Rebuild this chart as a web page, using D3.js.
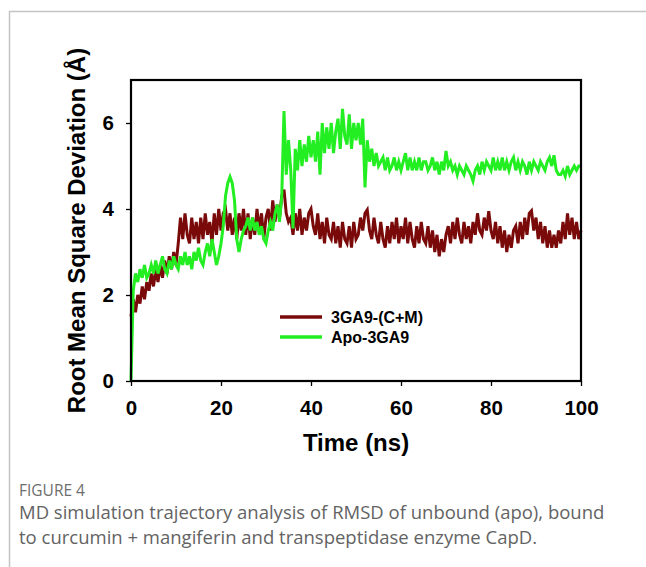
<!DOCTYPE html>
<html>
<head>
<meta charset="utf-8">
<script src="https://cdn.jsdelivr.net/npm/d3@7"></script>
<style>
  body { margin: 0; background: #fff; }
  svg { display: block; }
</style>
</head>
<body>
<div id="chart"></div>
<script>
// ---------- data (0.5 ns steps) ----------
const timeStep = 0.5;

// 3GA9-(C+M) : bound complex
const boundRmsd = [
  1.5,1.9,1.6,2.0,1.8,2.2,1.9,2.3,2.1,2.5,2.2,
  2.6,2.3,2.7,2.4,2.8,2.5,2.9,2.6,3.0,2.7,
  3.2,3.8,3.3,3.9,3.4,3.2,3.8,3.3,3.7,3.2,
  3.8,3.3,3.9,3.4,3.7,3.2,3.9,3.4,4.0,3.5,
  3.9,4.0,3.5,3.9,3.4,3.8,3.3,3.9,3.5,4.0,
  3.4,3.9,3.3,3.8,3.4,4.0,3.5,3.9,3.3,3.8,
  4.0,3.5,4.2,3.7,4.1,3.8,4.3,4.45,3.9,3.7,
  3.8,3.4,3.9,3.5,4.0,3.4,3.8,3.5,3.9,4.0,
  3.6,3.4,3.9,3.3,3.7,3.2,3.8,3.4,3.3,3.7,
  3.2,3.6,3.1,3.7,3.3,3.2,3.6,3.1,3.7,3.3,
  3.4,3.8,3.5,3.9,3.98,3.5,3.3,3.8,3.4,3.2,
  3.7,3.3,3.1,3.6,3.2,3.7,3.3,3.8,3.2,3.6,
  3.3,3.8,3.2,3.7,3.3,3.1,3.6,3.2,3.7,3.3,
  3.2,3.6,3.1,3.5,3.0,3.4,2.9,3.3,3.0,3.4,
  3.6,3.2,3.7,3.3,3.8,3.4,3.2,3.7,3.3,3.6,
  3.2,3.7,3.4,3.9,3.5,3.4,3.8,3.5,3.95,3.5,
  3.3,3.7,3.2,3.6,3.1,3.5,3.0,3.4,3.1,3.5,
  3.6,3.2,3.7,3.3,3.8,3.4,3.9,3.96,3.5,3.8,
  3.3,3.7,3.2,3.6,3.1,3.5,3.1,3.4,3.1,3.5,
  3.2,3.7,3.3,3.9,3.4,3.8,3.3,3.7,3.3,3.5
];

// Apo-3GA9 : unbound
const apoRmsd = [
  0,2.1,2.5,2.3,2.6,2.4,2.7,2.4,2.5,2.7,2.5,
  2.8,2.5,2.7,2.9,2.6,2.5,2.8,2.6,2.9,2.7,
  2.6,2.9,2.7,3.0,2.7,2.9,2.6,3.0,2.8,3.1,
  2.8,2.7,3.0,3.2,2.9,3.3,3.0,2.7,2.9,3.2,
  3.6,4.3,4.6,4.75,4.6,4.2,3.3,3.0,3.3,3.5,
  3.6,3.8,3.5,3.8,3.5,3.7,3.4,3.6,3.3,3.2,
  3.5,3.7,3.5,3.9,4.1,3.7,4.3,6.28,4.8,5.6,
  4.9,3.55,5.4,4.9,5.6,5.0,5.5,5.1,5.7,5.2,
  5.6,5.1,5.8,4.8,6.0,5.3,5.9,5.4,6.0,5.3,
  5.8,6.1,5.4,6.33,5.7,5.5,6.2,5.4,6.0,5.6,
  6.0,5.5,6.1,4.5,5.6,5.1,5.4,5.0,5.3,5.0,
  5.1,5.2,4.9,5.2,4.9,5.0,5.2,4.9,5.1,4.9,
  5.1,5.3,4.9,5.2,4.9,5.1,4.9,5.2,4.9,5.1,
  5.1,4.9,5.0,5.2,4.9,5.1,4.8,5.1,4.9,5.35,
  5.0,5.1,4.9,5.0,4.8,5.0,4.9,4.8,5.0,4.9,
  4.8,4.65,4.9,5.0,4.8,5.1,4.9,5.1,5.0,4.9,
  5.2,4.9,5.1,4.9,5.2,4.9,5.1,4.9,5.1,5.2,
  4.9,5.1,4.9,5.1,5.0,4.8,5.1,4.9,5.1,5.0,
  4.9,5.1,5.0,4.9,5.1,5.2,5.0,5.25,4.9,4.8,
  4.8,4.9,4.76,5.0,4.8,4.9,5.0,4.9,5.0,5.0
];

const seriesNames = ["3GA9-(C+M)", "Apo-3GA9"];
const seriesColors = ["#7a0a0a", "#22ee22"];
const xTicks = [0, 20, 40, 60, 80, 100];
const yTicks = [0, 2, 4, 6];
const captionLines = [
  "MD simulation trajectory analysis of RMSD of unbound (apo), bound",
  "to curcumin + mangiferin and transpeptidase enzyme CapD."
];

// ---------- layout ----------
const W = 646, H = 567;
const plot = { left: 131, right: 581, top: 80, bottom: 381 };

const svg = d3.select("#chart").append("svg")
  .attr("width", W)
  .attr("height", H);

// page frame (thin grey lines, top & left)
svg.append("path")
  .attr("d", `M9.5,${H} V11.5 H${W}`)
  .attr("fill", "none")
  .attr("stroke", "#c4c4c4")
  .attr("stroke-width", 1.5);

const x = d3.scaleLinear().domain([0, 100]).range([plot.left, plot.right]);
const y = d3.scaleLinear().domain([0, 7]).range([plot.bottom, plot.top]);

const tickFont = "'Liberation Sans', Arial, sans-serif";

// axes
const xAxis = d3.axisBottom(x).tickValues(xTicks).tickSize(5).tickPadding(14).tickFormat(d3.format("d"));
const yAxis = d3.axisLeft(y).tickValues(yTicks).tickSize(5).tickPadding(12).tickFormat(d3.format("d"));

const gx = svg.append("g")
  .attr("transform", `translate(0,${plot.bottom})`)
  .call(xAxis);
const gy = svg.append("g")
  .attr("transform", `translate(${plot.left},0)`)
  .call(yAxis);

[gx, gy].forEach(g => {
  g.select(".domain").remove();
  g.selectAll(".tick line").attr("stroke", "#000").attr("stroke-width", 1.3);
  g.selectAll(".tick text")
    .attr("fill", "#000")
    .style("font-family", tickFont)
    .style("font-weight", "bold")
    .style("font-size", "20.5px");
});

// lines
const toPoints = arr => arr.map((v, i) => ({ t: i * timeStep, v }));
const line = d3.line().x(d => x(d.t)).y(d => y(d.v));

[boundRmsd, apoRmsd].forEach((arr, i) => {
  svg.append("path")
    .datum(toPoints(arr))
    .attr("fill", "none")
    .attr("stroke", seriesColors[i])
    .attr("stroke-width", 3)
    .attr("stroke-linejoin", "miter")
    .attr("d", line);
});

// plot frame
svg.append("rect")
  .attr("x", plot.left)
  .attr("y", plot.top)
  .attr("width", plot.right - plot.left)
  .attr("height", plot.bottom - plot.top)
  .attr("fill", "none")
  .attr("stroke", "#000")
  .attr("stroke-width", 2.2);

// legend
const legend = svg.append("g").attr("transform", "translate(280,317)");
seriesNames.forEach((name, i) => {
  legend.append("line")
    .attr("x1", 0).attr("x2", 42)
    .attr("y1", i * 20).attr("y2", i * 20)
    .attr("stroke", seriesColors[i])
    .attr("stroke-width", 3.5);
  legend.append("text")
    .attr("x", 51)
    .attr("y", i * 20 + 6)
    .style("font-family", tickFont)
    .style("font-weight", "bold")
    .style("font-size", "16px")
    .text(name);
});

// axis titles
svg.append("text")
  .attr("x", (plot.left + plot.right) / 2)
  .attr("y", 451)
  .attr("text-anchor", "middle")
  .style("font-family", tickFont)
  .style("font-weight", "bold")
  .style("font-size", "24px")
  .text("Time (ns)");

svg.append("text")
  .attr("transform", `translate(85,${(plot.top + plot.bottom) / 2}) rotate(-90)`)
  .attr("text-anchor", "middle")
  .style("font-family", tickFont)
  .style("font-weight", "bold")
  .style("font-size", "24px")
  .text("Root Mean Square Deviation (Å)");

// caption
svg.append("text")
  .attr("x", 19)
  .attr("y", 496)
  .attr("fill", "#6e6e6e")
  .style("font-family", "'Open Sans', sans-serif")
  .style("font-size", "15.5px")
  .text("FIGURE 4");

captionLines.forEach((t, i) => {
  svg.append("text")
    .attr("x", 19)
    .attr("y", 519 + i * 25)
    .attr("fill", "#636363")
    .style("font-family", "'Open Sans', sans-serif")
    .style("font-size", "18.5px")
    .text(t);
});
</script>
</body>
</html>
